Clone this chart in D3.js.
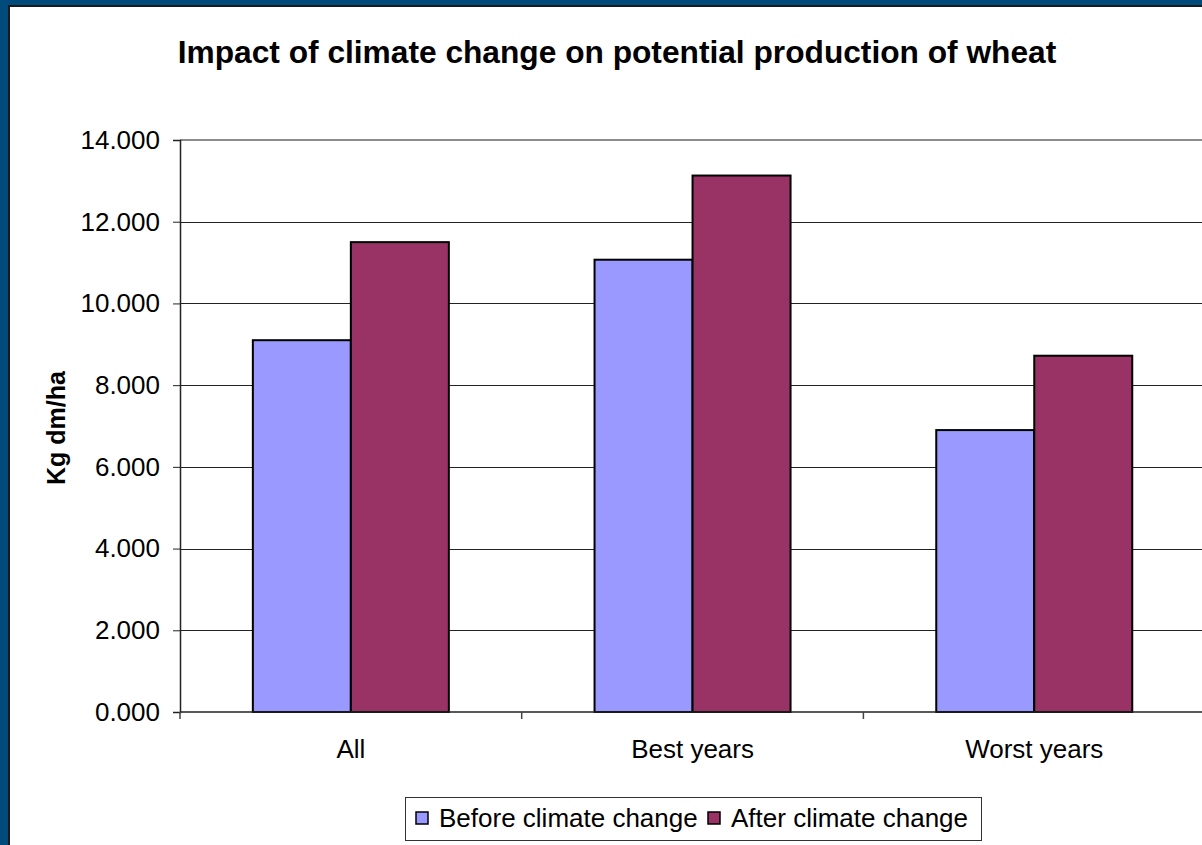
<!DOCTYPE html>
<html>
<head>
<meta charset="utf-8">
<script src="https://cdn.jsdelivr.net/npm/d3@7"></script>
<style>
  html, body { margin: 0; padding: 0; background: #ffffff; }
  svg { display: block; }
  text { font-family: "Liberation Sans", Arial, sans-serif; fill: #000; }
</style>
</head>
<body>
<svg id="chart" width="1202" height="845"></svg>
<script>
// Potential wheat production (kg dry matter per ha)
const categories = ["All", "Best years", "Worst years"];
const seriesNames = ["Before climate change", "After climate change"];
const beforeValues = [9.10, 11.07, 6.90];
const afterValues = [11.50, 13.13, 8.72];
const yTicks = [0, 2, 4, 6, 8, 10, 12, 14];
const seriesColors = ["#9999ff", "#993366"];

const svg = d3.select("#chart");
const W = 1202, H = 845;

// frame
svg.append("rect").attr("x", 0).attr("y", 0).attr("width", W).attr("height", H).attr("fill", "#004b7c");
svg.append("rect").attr("x", 8).attr("y", 5).attr("width", W).attr("height", H).attr("fill", "#1a1a1a");
svg.append("rect").attr("x", 10).attr("y", 7).attr("width", W).attr("height", H).attr("fill", "#ffffff");

const plot = { left: 180, top: 140, right: 180 + 3 * 341.7, bottom: 712 };

const x = d3.scaleBand().domain(categories).range([plot.left, plot.right]).paddingInner(0).paddingOuter(0);
const y = d3.scaleLinear().domain([0, 14]).range([plot.bottom, plot.top]);
const groupInner = 196 / 341.7;
const xs = d3.scaleBand().domain(seriesNames)
  .range([0, x.bandwidth()])
  .paddingOuter((1 - groupInner) / (groupInner / 2) / 2)
  .paddingInner(0);

// gridlines
svg.append("g").selectAll("line").data(yTicks.filter(t => t > 0 && t < 14)).join("line")
  .attr("x1", plot.left).attr("x2", W)
  .attr("y1", d => Math.round(y(d)) + 0.5).attr("y2", d => Math.round(y(d)) + 0.5)
  .attr("stroke", "#222").attr("stroke-width", 1);
// plot area top border
svg.append("line").attr("x1", plot.left).attr("x2", W)
  .attr("y1", y(14)).attr("y2", y(14))
  .attr("stroke", "#8c8c8c").attr("stroke-width", 2);

// bars
const rows = categories.map((c, i) => ({ cat: c, vals: [beforeValues[i], afterValues[i]] }));
const groups = svg.append("g").selectAll("g").data(rows).join("g")
  .attr("transform", d => `translate(${x(d.cat)},0)`);
groups.selectAll("rect").data(d => d.vals.map((v, j) => ({ v, s: seriesNames[j], j }))).join("rect")
  .attr("x", d => xs(d.s))
  .attr("width", xs.bandwidth())
  .attr("y", d => y(d.v))
  .attr("height", d => y(0) - y(d.v))
  .attr("fill", d => seriesColors[d.j])
  .attr("stroke", "#000").attr("stroke-width", 2);

// y axis
const yAxis = d3.axisLeft(y).tickValues(yTicks).tickFormat(d3.format(".3f")).tickSize(7).tickPadding(13);
const gy = svg.append("g").attr("transform", `translate(${plot.left},0)`).call(yAxis);
gy.select(".domain").attr("stroke", "#222").attr("stroke-width", 1.5);
gy.selectAll(".tick line").attr("stroke", "#222");
gy.selectAll("text").attr("font-size", 26).attr("font-family", "Liberation Sans, Arial, sans-serif").attr("fill", "#000");

// x axis
const xAxis = d3.axisBottom(x).tickSize(0).tickPadding(28);
const gx = svg.append("g").attr("transform", `translate(0,${plot.bottom})`).call(xAxis);
gx.select(".domain").remove();
gx.append("line").attr("x1", plot.left).attr("x2", W).attr("y1", 0).attr("y2", 0)
  .attr("stroke", "#222").attr("stroke-width", 1.5);
gx.selectAll(".tick text").attr("font-size", 26).attr("font-family", "Liberation Sans, Arial, sans-serif").attr("fill", "#000");
// category boundary ticks
const bounds = categories.map(c => x(c));
gx.append("g").selectAll("line").data(bounds).join("line")
  .attr("x1", d => d).attr("x2", d => d).attr("y1", 0).attr("y2", 7)
  .attr("stroke", "#444").attr("stroke-width", 1.5);

// title
svg.append("text").attr("x", 617).attr("y", 63).attr("text-anchor", "middle")
  .attr("font-size", 31.7).attr("font-weight", "bold")
  .text("Impact of climate change on potential production of wheat");

// y axis title
svg.append("text").attr("transform", `translate(65,428) rotate(-90)`).attr("text-anchor", "middle")
  .attr("font-size", 25).attr("font-weight", "bold").text("Kg dm/ha");

// legend
const lg = svg.append("g");
lg.append("rect").attr("x", 405.5).attr("y", 797.5).attr("width", 576).attr("height", 43)
  .attr("fill", "#fff").attr("stroke", "#333").attr("stroke-width", 1);
const legendItems = [{ name: seriesNames[0], x: 416, color: seriesColors[0] }, { name: seriesNames[1], x: 708, color: seriesColors[1] }];
const li = lg.selectAll("g.item").data(legendItems).join("g").attr("class", "item");
li.append("rect").attr("x", d => d.x).attr("y", 812).attr("width", 12).attr("height", 12)
  .attr("fill", d => d.color).attr("stroke", "#000").attr("stroke-width", 1.5);
li.append("text").attr("x", d => d.x + 23).attr("y", 827).attr("font-size", 26).text(d => d.name);
</script>
</body>
</html>
